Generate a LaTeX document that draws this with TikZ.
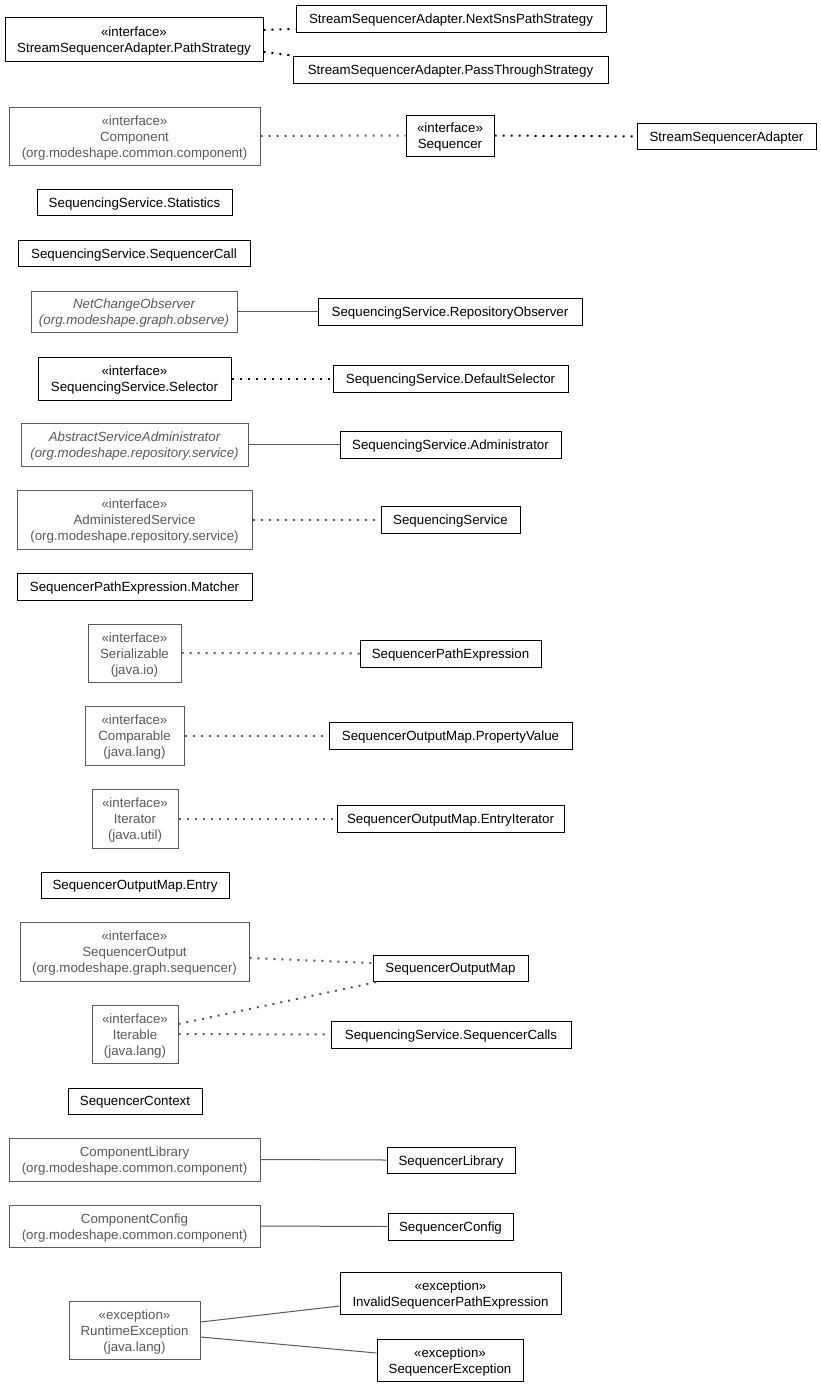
\documentclass[tikz,border=0pt]{standalone}
\usepackage{fontspec}
\setmainfont{Liberation Sans}
\definecolor{gr}{RGB}{90,90,90}
\tikzset{
  box/.style={draw, line width=1pt, inner sep=0pt},
  gbox/.style={box, draw=gr},
  boxt/.style={inner sep=0pt, align=center, font=\fontsize{13.3}{16}\selectfont},
  gboxt/.style={boxt, text=gr},
  dot/.style={line width=2pt, dash pattern=on 2pt off 6pt},
  gdot/.style={dot, draw=gr},
  bdot/.style={dot, draw=black},
  sol/.style={line width=1pt, draw=gr},
}
\newcommand\bx[6]{\node[#1, minimum width=#4, minimum height=#5] (#2) at (#3) {};
  \node[#1t] (#2t) at ([yshift=-1.6pt]#2.center) {#6};}
\begin{document}
\begin{tikzpicture}[x=1pt,y=-1pt]
\useasboundingbox[fill=white] (0,0) rectangle (821,1387);
\bx{box}{ps}{134,39}{258}{44}{«interface»\\StreamSequencerAdapter.PathStrategy}
\bx{box}{nss}{451,18.5}{310}{27}{StreamSequencerAdapter.NextSnsPathStrategy}
\bx{box}{pts}{450.5,69.5}{315}{27}{StreamSequencerAdapter.PassThroughStrategy}
\bx{gbox}{comp}{134.5,136}{251}{58}{«interface»\\Component\\(org.modeshape.common.component)}
\bx{box}{seq}{450,135.5}{88}{41}{«interface»\\Sequencer}
\bx{box}{ssa}{726.5,136.5}{179}{26}{StreamSequencerAdapter}
\bx{box}{stat}{134.5,202}{195}{26}{SequencingService.Statistics}
\bx{box}{call}{134,253}{232}{26}{SequencingService.SequencerCall}
\bx{gbox}{nco}{134,311.5}{206}{41}{\itshape NetChangeObserver\\\itshape (org.modeshape.graph.observe)}
\bx{box}{ro}{450,311.5}{264}{27}{SequencingService.RepositoryObserver}
\bx{box}{sel}{134.5,378.5}{193}{43}{«interface»\\SequencingService.Selector}
\bx{box}{ds}{450.5,378.5}{235}{27}{SequencingService.DefaultSelector}
\bx{gbox}{asa}{134.5,444.5}{227}{43}{\itshape AbstractServiceAdministrator\\\itshape (org.modeshape.repository.service)}
\bx{box}{adm}{450.5,444.5}{221}{27}{SequencingService.Administrator}
\bx{gbox}{as}{134.5,519.5}{235}{59}{«interface»\\AdministeredService\\(org.modeshape.repository.service)}
\bx{box}{ss}{450.5,519.5}{139}{27}{SequencingService}
\bx{box}{mat}{134.5,586.5}{235}{27}{SequencerPathExpression.Matcher}
\bx{gbox}{ser}{134.5,653}{93}{58}{«interface»\\Serializable\\(java.io)}
\bx{box}{spe}{450.5,653.5}{181}{27}{SequencerPathExpression}
\bx{gbox}{cmp}{134.5,735.5}{99}{59}{«interface»\\Comparable\\(java.lang)}
\bx{box}{pv}{450.5,735.5}{243}{27}{SequencerOutputMap.PropertyValue}
\bx{gbox}{itr}{135,818.5}{86}{59}{«interface»\\Iterator\\(java.util)}
\bx{box}{ei}{450.5,818.5}{227}{27}{SequencerOutputMap.EntryIterator}
\bx{box}{ent}{135,885}{188}{26}{SequencerOutputMap.Entry}
\bx{gbox}{so}{134.5,951.5}{229}{59}{«interface»\\SequencerOutput\\(org.modeshape.graph.sequencer)}
\bx{box}{som}{450.5,968}{155}{26}{SequencerOutputMap}
\bx{gbox}{itb}{135,1034}{86}{58}{«interface»\\Iterable\\(java.lang)}
\bx{box}{calls}{451,1034.5}{240}{27}{SequencingService.SequencerCalls}
\bx{box}{ctx}{135,1101}{134}{26}{SequencerContext}
\bx{gbox}{cl}{134.5,1159.5}{251}{43}{ComponentLibrary\\(org.modeshape.common.component)}
\bx{box}{sl}{451,1160}{128}{26}{SequencerLibrary}
\bx{gbox}{cc}{134.5,1226}{251}{42}{ComponentConfig\\(org.modeshape.common.component)}
\bx{box}{sc}{450.5,1226.5}{125}{27}{SequencerConfig}
\bx{gbox}{re}{134.5,1330}{131}{58}{«exception»\\RuntimeException\\(java.lang)}
\bx{box}{isp}{450.5,1293}{221}{42}{«exception»\\InvalidSequencerPathExpression}
\bx{box}{se}{450,1360}{146}{42}{«exception»\\SequencerException}
% edges
\draw[bdot] (ps.east |- 0,30) -- (nss.south west |- 0,29);
\draw[bdot] (ps.east |- 0,52) -- (pts.north west);
\draw[gdot] (comp.east) -- (seq.west);
\draw[bdot] (seq.east) -- (ssa.west);
\draw[sol] (nco.east) -- (ro.west);
\draw[bdot] (sel.east) -- (ds.west);
\draw[sol] (asa.east) -- (adm.west);
\draw[gdot] (as.east) -- (ss.west);
\draw[gdot] (ser.east) -- (spe.west);
\draw[gdot] (cmp.east) -- (pv.west);
\draw[gdot] (itr.east) -- (ei.west);
\draw[gdot] (so.east |- 0,958) -- (som.west |- 0,963);
\draw[gdot] (itb.east |- 0,1024) -- ([xshift=7pt]som.south west);
\draw[gdot] (itb.east) -- (calls.west);
\draw[sol] (cl.east) -- (sl.west);
\draw[sol] (cc.east) -- (sc.west);
\draw[sol] (re.east |- 0,1322) -- (isp.west |- 0,1306);
\draw[sol] (re.east |- 0,1337) -- (se.west |- 0,1353);
\end{tikzpicture}
\end{document}
